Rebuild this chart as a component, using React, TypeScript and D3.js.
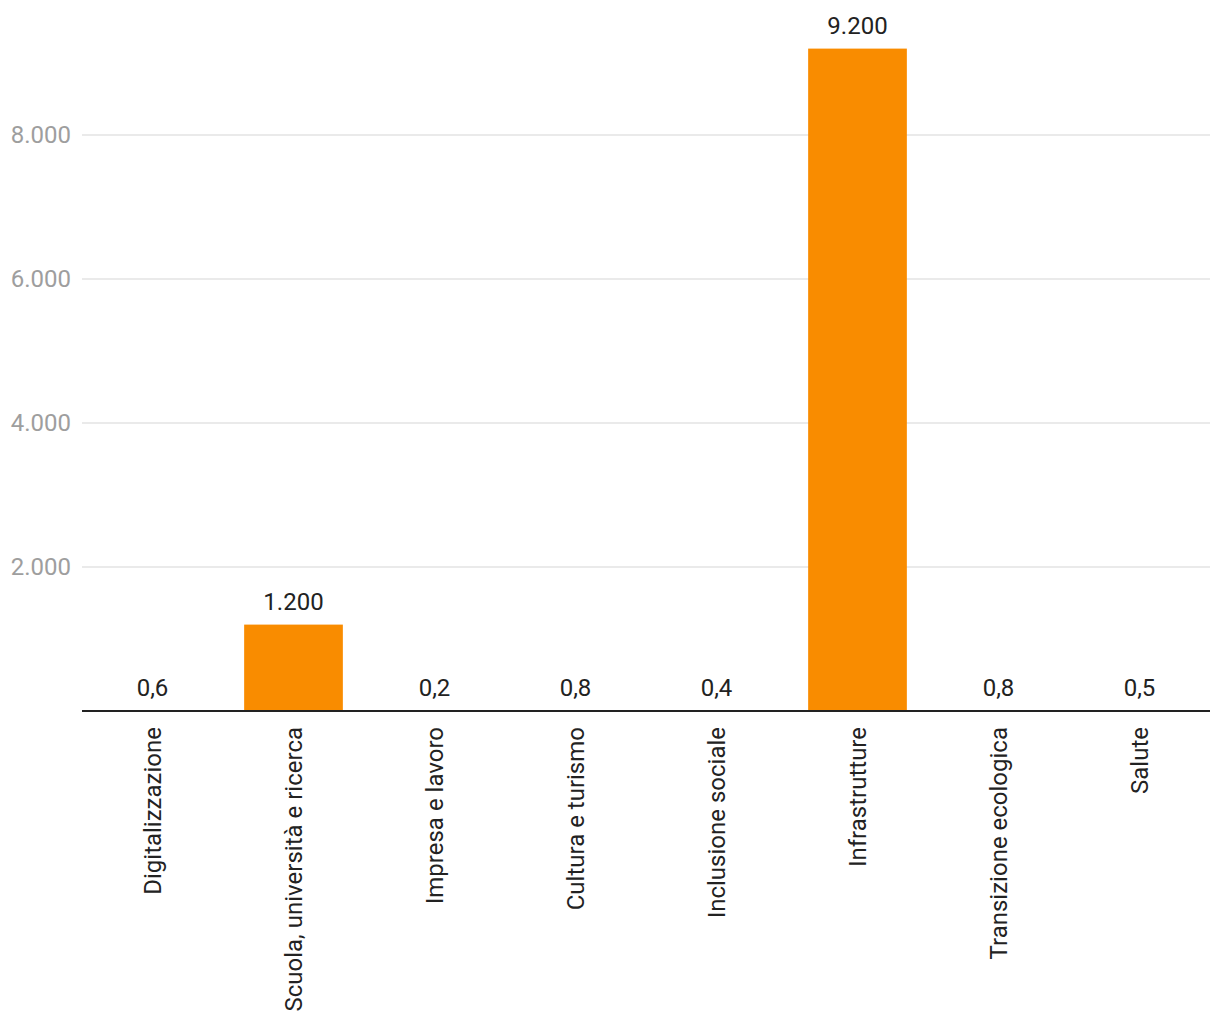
import React from "react";
import * as d3 from "d3";

const categories = [
  "Digitalizzazione",
  "Scuola, università e ricerca",
  "Impresa e lavoro",
  "Cultura e turismo",
  "Inclusione sociale",
  "Infrastrutture",
  "Transizione ecologica",
  "Salute",
];
const values = [0.6, 1200, 0.2, 0.8, 0.4, 9200, 0.8, 0.5];
const yTicks = [2000, 4000, 6000, 8000];

const W = 1220;
const H = 1020;
const M = { left: 82, right: 10, top: 0, bottom: 0 };
const baseY = 711;

const fmt = (v: number) => {
  if (v >= 1000) return d3.format(",")(v).replace(/,/g, ".");
  return String(v).replace(".", ",");
};

export default function App() {
  const x = d3
    .scaleBand<string>()
    .domain(categories)
    .range([M.left, W - M.right])
    .paddingInner(0.3)
    .paddingOuter(0.15);
  const y = d3.scaleLinear().domain([0, 2000]).range([baseY, baseY - 144]);
  const font = "Roboto, 'Noto Sans', sans-serif";
  return (
    <svg
      width={W}
      height={H}
      style={{ position: "absolute", top: 0, left: 0, background: "#fff" }}
      fontFamily={font}
    >
      {yTicks.map((t) => (
        <g key={t}>
          <line x1={M.left} x2={W - M.right} y1={y(t)} y2={y(t)} stroke="#e3e3e3" strokeWidth={1.5} />
          <text x={71} y={y(t)} dy="0.35em" textAnchor="end" fontSize={24} fill="#9e9e9e">
            {fmt(t)}
          </text>
        </g>
      ))}
      {categories.map((c, i) => {
        const v = values[i];
        const bx = x(c)!;
        const bw = x.bandwidth();
        return (
          <g key={c}>
            <rect x={bx} y={y(v)} width={bw} height={baseY - y(v)} fill="#F98C00" />
            <text x={bx + bw / 2} y={y(v) - 15} textAnchor="middle" fontSize={24} fill="#222">
              {fmt(v)}
            </text>
            <text
              transform={`translate(${bx + bw / 2},${baseY + 16}) rotate(-90)`}
              textAnchor="end"
              dy="0.35em"
              fontSize={24}
              fill="#222"
            >
              {c}
            </text>
          </g>
        );
      })}
      <line x1={M.left} x2={W - M.right} y1={baseY} y2={baseY} stroke="#222" strokeWidth={2} />
    </svg>
  );
}
